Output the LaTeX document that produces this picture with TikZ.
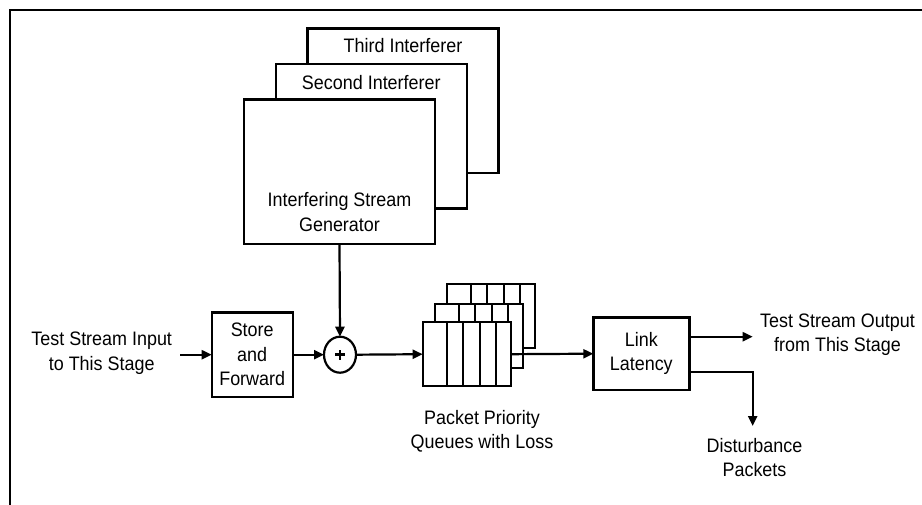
\documentclass[tikz,border=0pt]{standalone}
\usepackage{fontspec}
\setmainfont{Liberation Sans}[FakeStretch=0.92]
\usetikzlibrary{arrows.meta,shapes.geometric}

\begin{document}
\begin{tikzpicture}[x=1pt,y=-1pt,
  every node/.style={inner sep=0pt,outer sep=0pt},
  txt/.style={font=\fontsize{19.5}{24.5}\selectfont,align=center},
  block/.style={draw,line width=2.4pt,fill=white,minimum width=#1},
  genbox/.style={block=191pt,minimum height=144.5pt},
  qbox/.style={block=88pt,minimum height=64pt},
  flow/.style={line width=2.2pt,-{Triangle[length=10pt,width=9pt]}},
  plain/.style={line width=2.2pt}]
\useasboundingbox (0,0) rectangle (922,505);

% frame edges
\draw[line width=2.2pt] (10,505) -- (10,10) -- (922,10);

% stacked interferer generators
\node[genbox] (third) at (403,100.7) {};
\node[txt] (thirdtxt) at (403,46) {Third Interferer};
\node[genbox] (second) at (371.3,136.2) {};
\node[txt] (secondtxt) at (371.3,82.7) {Second Interferer};
\node[genbox] (gen) at (339.5,171.7) {};
\node[txt] (gentxt) at (339.5,212) {Interfering Stream\\Generator};

% input side
\node[txt] (intxt) at (101.7,353) {Test Stream Input\\to This Stage};
\coordinate (instart) at (180,354.7);
\node[block=81pt,minimum height=84pt,txt] (store) at (252.2,354.7) {Store\\and\\Forward};
\node[draw,ellipse,line width=2.2pt,minimum width=32pt,minimum height=36pt,fill=white] (sum) at (340,354.7) {};
\draw[line width=2.6pt] ([xshift=-5pt]sum.center) -- ([xshift=5pt]sum.center)
                        ([yshift=-5pt]sum.center) -- ([yshift=5pt]sum.center);

% priority queues (back to front)
\foreach \nm/\cx/\cy in {q3/490.7/316, q2/478.7/336, q1/466.7/354.2}{
  \node[qbox] (\nm) at (\cx,\cy) {};
  \foreach \d in {24,40.5,57,73.3}
    \draw[line width=2.4pt] ([xshift=\d pt]\nm.north west) -- ([xshift=\d pt]\nm.south west);
}
\node[txt] (qtxt) at (482,431.5) {Packet Priority\\Queues with Loss};

% link latency and outputs
\node[block=96pt,minimum height=72.7pt,txt] (link) at (641.3,353.7) {Link\\Latency};
\node[txt] (outtxt) at (837.5,334.7) {Test Stream Output\\from This Stage};
\coordinate (outend) at (752.7,336.7);
\node[txt] (disttxt) at (754.5,457.5) {Disturbance\\Packets};
\coordinate (distend) at (752.7,426);

% connectors
\draw[flow] (instart) -- (store.west);
\draw[flow] (store.east) -- (sum.west);
\draw[flow] (gen.south) -- (sum.north);
\draw[flow] (sum.east) -- (q1.west);
\draw[flow] (q1.east) -- (link.west);
\draw[flow] (link.east |- outend) -- (outend);
\draw[flow] ([yshift=-18pt]link.east) -| (distend);
\end{tikzpicture}
\end{document}
